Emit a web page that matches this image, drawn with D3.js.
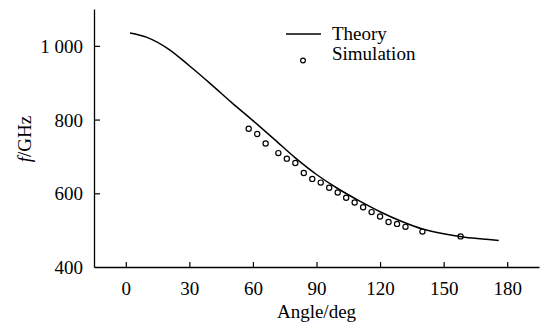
<!DOCTYPE html>
<html>
<head>
<meta charset="utf-8">
<script src="https://cdn.jsdelivr.net/npm/d3@7"></script>
<style>
    html, body { margin: 0; padding: 0; background: #fff; }
    svg text { font-family: "Liberation Serif", "DejaVu Serif", serif; fill: #000; }
</style>
</head>
<body>
<div id="chart"></div>
<script>
// theory curve
var theoryAngle = [2, 10, 20, 30, 40, 50, 60, 70, 80, 90, 100, 110, 120, 130, 140, 150, 160, 170, 176];
var theoryFreq = [1035, 1023, 992, 946, 897, 846, 797, 747, 696, 651, 613, 580, 550, 524, 503, 490, 481, 475, 472];

// simulation points
var simAngle = [58, 62, 66, 72, 76, 80, 84, 88, 92, 96, 100, 104, 108, 112, 116, 120, 124, 128, 132, 140, 158];
var simFreq = [775, 761, 735, 709, 694, 682, 655, 639, 629, 615, 602, 588, 575, 562, 549, 537, 522, 517, 509, 496, 483];

var xTicks = [0, 30, 60, 90, 120, 150, 180];
var yTicks = [400, 600, 800, 1000];

var W = 541, H = 325;
var svg = d3.select('#chart').append('svg')
    .attr('width', W)
    .attr('height', H);

var x = d3.scaleLinear().domain([-15, 195]).range([94, 539]);
var y = d3.scaleLinear().domain([400, 1100]).range([267, 9]);

function yFmt(d) {
    return d3.format(',')(d).replace(',', ' ');
}

// x axis, ticks pointing up into the plot
var gx = svg.append('g')
    .attr('transform', 'translate(0,' + y(400) + ')')
    .call(d3.axisBottom(x).tickValues(xTicks).tickSizeInner(-5).tickSizeOuter(0).tickPadding(10));

// y axis, ticks pointing right
var gy = svg.append('g')
    .attr('transform', 'translate(' + x(-15) + ',0)')
    .call(d3.axisLeft(y).tickValues(yTicks).tickFormat(yFmt).tickSizeInner(-6).tickSizeOuter(0).tickPadding(11));

[gx, gy].forEach(function(g) {
    g.select('.domain').attr('stroke', '#000').attr('stroke-width', 1.3);
    g.selectAll('.tick line').attr('stroke', '#000').attr('stroke-width', 1.2);
    g.selectAll('.tick text').attr('font-size', 19).attr('font-family', '"Liberation Serif", serif');
});
gy.selectAll('.tick').filter(function(d) { return d === 400; }).select('line').remove();
gx.selectAll('.tick text').attr('dy', '0.95em');
gy.selectAll('.tick text').attr('dy', '0.34em');

// theory line
var theory = theoryAngle.map(function(a, i) { return [a, theoryFreq[i]]; });
var line = d3.line()
    .x(function(d) { return x(d[0]); })
    .y(function(d) { return y(d[1]); })
    .curve(d3.curveCatmullRom.alpha(0.5));

svg.append('path')
    .datum(theory)
    .attr('d', line)
    .attr('fill', 'none')
    .attr('stroke', '#000')
    .attr('stroke-width', 1.5);

// simulation circles
svg.append('g').selectAll('circle')
    .data(simAngle)
    .enter().append('circle')
    .attr('cx', function(d) { return x(d); })
    .attr('cy', function(d, i) { return y(simFreq[i]); })
    .attr('r', 2.6)
    .attr('fill', 'none')
    .attr('stroke', '#000')
    .attr('stroke-width', 1.2);

// axis titles
svg.append('text')
    .attr('x', x(90))
    .attr('y', 318)
    .attr('text-anchor', 'middle')
    .attr('font-size', 19)
    .text('Angle/deg');

var yl = svg.append('text')
    .attr('transform', 'translate(31,139) rotate(-90)')
    .attr('text-anchor', 'middle')
    .attr('font-size', 19);
yl.append('tspan').attr('font-style', 'italic').text('f');
yl.append('tspan').text('/GHz');

// legend
var leg = svg.append('g');
leg.append('line')
    .attr('x1', 286).attr('x2', 321)
    .attr('y1', 34).attr('y2', 34)
    .attr('stroke', '#000').attr('stroke-width', 1.5);
leg.append('text').attr('x', 332).attr('y', 40).attr('font-size', 19).text('Theory');
leg.append('circle')
    .attr('cx', 303).attr('cy', 60.5).attr('r', 2.4)
    .attr('fill', 'none').attr('stroke', '#000').attr('stroke-width', 1.2);
leg.append('text').attr('x', 332).attr('y', 60).attr('font-size', 19).text('Simulation');
</script>
</body>
</html>
